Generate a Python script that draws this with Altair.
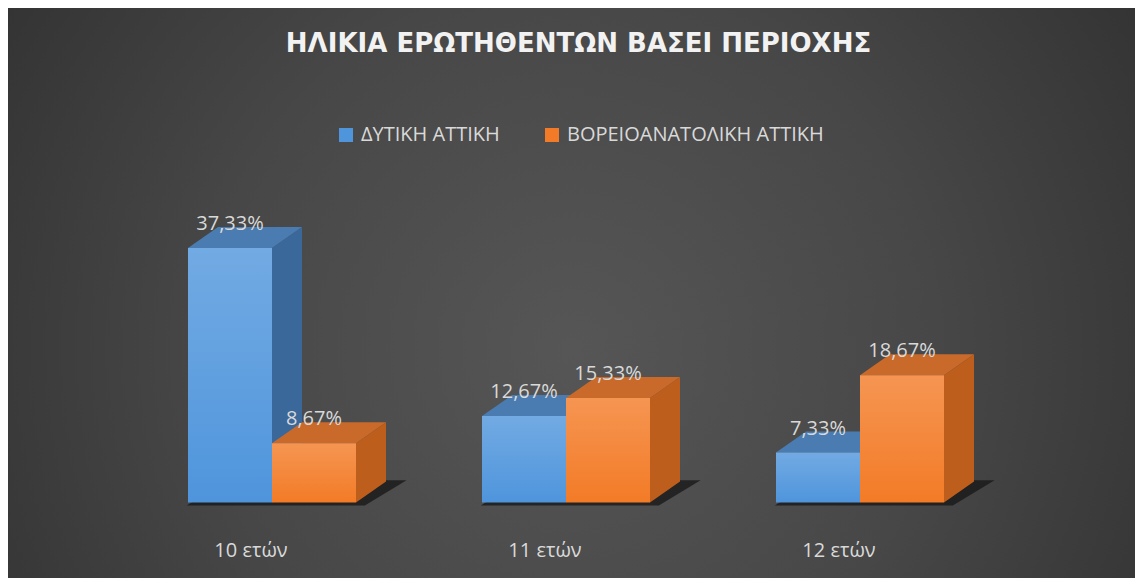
import altair as alt
import pandas as pd

# ---- data ----
categories = ["10 ετών", "11 ετών", "12 ετών"]
series = ["ΔΥΤΙΚΗ ΑΤΤΙΚΗ", "ΒΟΡΕΙΟΑΝΑΤΟΛΙΚΗ ΑΤΤΙΚΗ"]
west_attica = [37.33, 12.67, 7.33]
northeast_attica = [8.67, 15.33, 18.67]
title_text = "ΗΛΙΚΙΑ ΕΡΩΤΗΘΕΝΤΩΝ ΒΑΣΕΙ ΠΕΡΙΟΧΗΣ"

# ---- layout constants (in scale units) ----
W = 84 / 294      # bar width, in group steps
DX = 30 / 294     # 3D depth, horizontal
DY = 21 / 6.82    # 3D depth, vertical (percent units)
CHART_W, CHART_H = 1127, 570

xscale = alt.Scale(domain=[-264 / 294, (CHART_W - 264) / 294], nice=False, zero=False)
yscale = alt.Scale(domain=[-(CHART_H - 494.5) / 6.82, 494.5 / 6.82], nice=False, zero=False)

BLUE, ORANGE = "#4f95dc", "#f37b27"
BLUE_SIDE, ORANGE_SIDE = "#3b689a", "#bd5e1c"
BLUE_TOP, ORANGE_TOP = "#4a7cb2", "#c96a2b"

values = [west_attica, northeast_attica]

front_rows, side_rows, top_rows, shadow_rows = [], [], [], []
for i, cat in enumerate(categories):
    for j, s in enumerate(series):
        v = values[j][i]
        L = i - W + j * W
        R = L + W
        bid = f"{i}-{j}"
        front_rows.append(dict(bar=bid, series=s, category=cat, v=v, L=L, R=R,
                               mid=(L + R) / 2,
                               label=f"{v:.2f}".replace(".", ",") + "%"))
        side_rows.append(dict(bar=bid, series=s, x=R, y=v, y2=0.0))
        side_rows.append(dict(bar=bid, series=s, x=R + DX, y=v + DY, y2=DY))
        top_rows.append(dict(bar=bid, series=s, y=v, x=L, x2=R))
        top_rows.append(dict(bar=bid, series=s, y=v + DY, x=L + DX, x2=R + DX))
    shadow_rows.append(dict(g=i, y=-0.45, x=i - W - 0.004, x2=i + W + 0.03))
    shadow_rows.append(dict(g=i, y=DY + 0.2, x=i - W + DX + 0.03, x2=i + W + DX + 0.07))

front = pd.DataFrame(front_rows)
side = pd.DataFrame(side_rows)
top = pd.DataFrame(top_rows)
shadow = pd.DataFrame(shadow_rows)
cats = pd.DataFrame({"category": categories, "pos": [i - 21 / 294 for i in range(len(categories))]})

is_blue = alt.datum.series == series[0]

bg = alt.Chart(pd.DataFrame({"k": [0]})).mark_rect(
    color=alt.RadialGradient(
        gradient="radial",
        stops=[alt.GradientStop(color="#565656", offset=0),
               alt.GradientStop(color="#474747", offset=0.45),
               alt.GradientStop(color="#2a2a2a", offset=1)],
        x1=0.5, y1=0.55, r1=0, x2=0.5, y2=0.55, r2=0.72)
).encode(x=alt.value(0), x2=alt.value(CHART_W), y=alt.value(0), y2=alt.value(CHART_H))

shadow_l = alt.Chart(shadow).mark_area(orient="horizontal", color="#161616", opacity=0.75).encode(
    y=alt.Y("y:Q", scale=yscale, axis=None),
    x=alt.X("x:Q", scale=xscale, axis=None),
    x2="x2:Q",
    detail="g:N",
)

side_l = alt.Chart(side).mark_area(orient="vertical").encode(
    x=alt.X("x:Q", scale=xscale, axis=None),
    y=alt.Y("y:Q", scale=yscale, axis=None, stack=None),
    y2="y2:Q",
    detail="bar:N",
    fill=alt.condition(is_blue, alt.value(BLUE_SIDE), alt.value(ORANGE_SIDE)),
)

top_l = alt.Chart(top).mark_area(orient="horizontal").encode(
    y=alt.Y("y:Q", scale=yscale, axis=None, stack=None),
    x=alt.X("x:Q", scale=xscale, axis=None),
    x2="x2:Q",
    detail="bar:N",
    fill=alt.condition(is_blue, alt.value(BLUE_TOP), alt.value(ORANGE_TOP)),
)

front_l = alt.Chart(front).mark_bar().encode(
    x=alt.X("L:Q", scale=xscale, axis=None),
    x2="R:Q",
    y=alt.Y("v:Q", scale=yscale, axis=None),
    y2=alt.datum(0),
    color=alt.Color("series:N", scale=alt.Scale(domain=series, range=[BLUE, ORANGE]),
                    legend=alt.Legend(title=None, orient="none", legendX=328, legendY=117,
                                      direction="horizontal", symbolType="square",
                                      symbolSize=196, symbolStrokeWidth=0,
                                      labelFont="Open Sans", labelFontSize=20,
                                      labelColor="#d9d9d9", labelOffset=5,
                                      columnPadding=42, labelLimit=400)),
)

overlay_l = alt.Chart(front).mark_bar(
    color=alt.LinearGradient(
        gradient="linear", x1=0, y1=0, x2=0, y2=1,
        stops=[alt.GradientStop(color="rgba(255,255,255,0.20)", offset=0),
               alt.GradientStop(color="rgba(255,255,255,0.0)", offset=1)])
).encode(
    x=alt.X("L:Q", scale=xscale, axis=None),
    x2="R:Q",
    y=alt.Y("v:Q", scale=yscale, axis=None),
    y2=alt.datum(0),
)

value_l = alt.Chart(front).mark_text(
    font="Open Sans", fontSize=20, color="#d9d9d9", dy=-18, baseline="alphabetic", align="center"
).encode(
    x=alt.X("mid:Q", scale=xscale, axis=None),
    y=alt.Y("v:Q", scale=yscale, axis=None),
    text="label:N",
)

cat_l = alt.Chart(cats).mark_text(
    font="Open Sans", fontSize=20, color="#d9d9d9", baseline="alphabetic", align="center"
).encode(
    x=alt.X("pos:Q", scale=xscale, axis=None),
    y=alt.value(549),
    text="category:N",
)

chart = alt.layer(bg, shadow_l, side_l, top_l, front_l, overlay_l, value_l, cat_l).properties(
    width=CHART_W,
    height=CHART_H,
    padding=0,
    autosize=alt.AutoSizeParams(type="none"),
    title=alt.Title(title_text, anchor="middle", offset=-70, baseline="alphabetic",
                    font="DejaVu Sans", fontSize=26, fontWeight="bold", color="#f2f2f2", dx=7),
).configure(background="#2a2a2a").configure_view(stroke=None)

chart.save("out.html", embed_options={"renderer": "svg", "actions": False})
